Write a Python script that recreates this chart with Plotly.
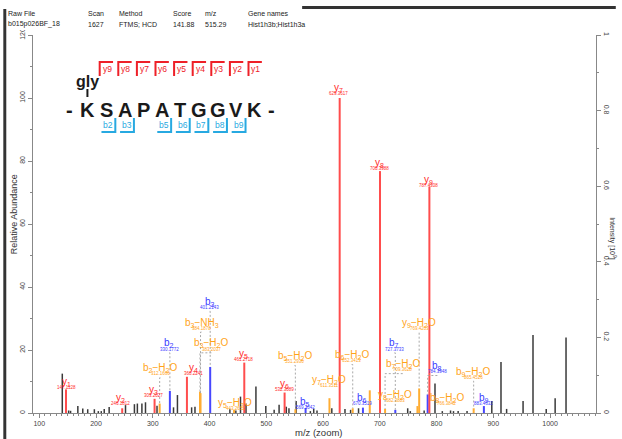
import plotly.graph_objects as go

# header table
header_cols = ['Raw File', 'Scan', 'Method', 'Score', 'm/z', 'Gene names']
header_vals = ['b015p026BF_18', '1627', 'FTMS; HCD', '141.88', '515.29', 'Hist1h3b;Hist1h3a']

# peptide + fragment coverage
peptide = 'KSAPATGGVK'
mod_label = 'gly'
y_cover = [9, 8, 7, 6, 5, 4, 3, 2, 1]
b_cover = [2, 3, 5, 6, 7, 8, 9]

# unassigned peaks (m/z, relative abundance)
other_mz = [140.6, 151.8, 155.2, 168.0, 176.7, 185.4, 197.1, 204.1, 209.3, 214.5, 223.2, 252.0,
            267.7, 272.9, 280.9, 287.2, 307.5, 336.6, 343.5, 368.5, 374.4, 435.9, 446.4, 454.6,
            464.3, 481.8, 499.2, 513.9, 522.6, 535.3, 540.0, 552.6, 577.7, 583.6, 589.4, 615.5,
            638.7, 648.6, 662.6, 749.2, 753.8, 778.2, 797.3, 810.2, 824.7, 829.9, 838.1, 853.8,
            897.4, 913.6, 923.5, 952.5, 970.0, 993.3, 1009.0, 1028.2]
other_int = [12.5, 0.8, 0.7, 2.2, 1.4, 1.2, 1.2, 0.6, 0.6, 1.3, 1.9, 2.5,
             2.8, 3.0, 3.0, 3.4, 2.3, 1.8, 5.7, 1.8, 2.0, 1.2, 0.8, 5.2,
             3.0, 8.4, 2.2, 1.0, 2.6, 2.0, 1.5, 3.8, 0.6, 1.3, 0.8, 1.5,
             1.3, 1.0, 1.5, 1.5, 0.6, 0.8, 9.4, 0.6, 0.8, 0.6, 0.6, 0.6,
             3.8, 16.2, 1.3, 3.8, 24.8, 1.3, 4.7, 24.0]

# assigned peaks
y_names = ['y1', 'y2', 'y3', 'y4', 'y5', 'y6', 'y7', 'y8', 'y9']
y_mz = [147.1128, 246.1812, 303.2027, 360.2241, 461.2718, 532.3089, 629.3617, 700.3988, 787.4308]
y_int = [7.5, 1.5, 4.5, 11.5, 16.0, 6.5, 100.0, 76.8, 71.9]

b_names = ['b2', 'b3', 'b5', 'b6', 'b7', 'b8', 'b9']
b_mz = [330.1772, 401.2143, 569.3042, 670.3519, 727.3733, 784.3948, 883.4632]
b_int = [7.0, 14.6, 1.6, 1.7, 1.0, 5.9, 2.2]

loss_names = ['b2-H2O', 'b3-H2O', 'b3-NH3', 'y5-H2O', 'b5-H2O', 'y7-H2O', 'b6-H2O',
              'y8-H2O', 'b7-H2O', 'b8-H2O', 'y9-H2O', 'b9-H2O']
loss_mz = [312.1666, 383.2037, 384.1878, 443.2612, 551.2936, 611.3511, 652.3413,
           682.3883, 709.3628, 766.3842, 769.4203, 865.4526]
loss_int = [3.0, 6.8, 6.3, 1.0, 1.2, 4.7, 1.5, 7.2, 1.3, 2.2, 7.8, 1.5]

# right axis (intensity, x10^9)
intensity_ticks = [0, 0.2, 0.4, 0.6, 0.8, 1]

# where each peak label sits (m/z, rel. abundance)
label_pos = {
    'y1': (148.3, 9.8), 'y2': (243.6, 4.7), 'y3': (301.7, 7.3), 'b2-H2O': (313.4, 14.2),
    'b2': (329.1, 22.1), 'y4': (371.4, 14.2), 'b3-NH3': (385.9, 28.7), 'b3-H2O': (403.3, 22.1),
    'b3': (400.5, 35.3), 'y5-H2O': (445.2, 3.1), 'y5': (459.8, 18.7), 'y6': (531.3, 9.2),
    'b5-H2O': (549.8, 18.1), 'b5': (569.0, 3.6), 'y7-H2O': (610.8, 10.5), 'y7': (627.2, 103.2),
    'b6-H2O': (650.4, 18.4), 'b6': (669.0, 4.7), 'y8': (698.7, 79.3), 'y8-H2O': (727.1, 5.7),
    'b7': (725.8, 22.1), 'b7-H2O': (740.5, 15.5), 'y9-H2O': (769.4, 28.5), 'y9': (785.8, 74.0),
    'b8': (801.5, 14.9), 'b8-H2O': (817.7, 4.7), 'b9-H2O': (864.3, 13.1), 'b9': (882.8, 4.7),
}
dashed = ['b2-H2O', 'b2', 'b3-NH3', 'b3-H2O', 'b3', 'b5-H2O', 'b6-H2O', 'b7', 'b7-H2O',
          'y9-H2O', 'b8', 'b9-H2O']

RED, BLUE, ORANGE, DARK = '#ff4d4d', '#4747ff', '#ffad33', '#3a3a3a'
FONT = 'Liberation Sans, Arial, sans-serif'

# plot area in pixels
L, R, T, B = 33, 602, 35, 413


def px(x):
    return (x - L) / (R - L)


def py(y):
    return (B - y) / (B - T)


def sticks(mz, inten):
    xs, ys = [], []
    for m, h in zip(mz, inten):
        xs += [m, m, None]
        ys += [0, h, None]
    return xs, ys


def fmt(name):
    ion, _, loss = name.partition('-')
    s = f"{ion[0]}<sub>{ion[1:]}</sub>"
    if loss:
        s += '−' + loss.replace('H2O', 'H<sub>2</sub>O').replace('NH3', 'NH<sub>3</sub>')
    return s


fig = go.Figure()


def note(x, y, text, size, color, ref='paper', xanchor='center', angle=0):
    fig.add_annotation(x=x, y=y, xref='x' if ref == 'data' else 'paper',
                       yref='y' if ref == 'data' else 'paper', text=text, showarrow=False,
                       xanchor=xanchor, yanchor='middle', textangle=angle,
                       font=dict(size=size, color=color, family=FONT))


for mz, inten, col, w in [(other_mz, other_int, DARK, 1.5), (loss_mz, loss_int, ORANGE, 2),
                          (b_mz, b_int, BLUE, 2), (y_mz, y_int, RED, 2)]:
    xs, ys = sticks(mz, inten)
    fig.add_trace(go.Scatter(x=xs, y=ys, mode='lines', line=dict(color=col, width=w),
                             hoverinfo='skip', showlegend=False))

# peak labels + dashed leaders
peaks = {}
for names, mz, inten, tcol in [(y_names, y_mz, y_int, '#ff2a2a'),
                               (b_names, b_mz, b_int, '#3a3aff'),
                               (loss_names, loss_mz, loss_int, '#ffa31a')]:
    for n, m, h in zip(names, mz, inten):
        peaks[n] = (m, h)
        lx, ly = label_pos[n]
        note(lx, ly, fmt(n), 10, tcol, ref='data')
        note(lx, ly - 1.8, f"{m:.4f}", 4.5, tcol, ref='data')

for n in dashed:
    m, h = peaks[n]
    lx, ly = label_pos[n]
    top = ly - 3.0
    fig.add_trace(go.Scatter(x=[lx, m, m], y=[top, top, h], mode='lines',
                             line=dict(color='#a8a8a8', width=1, dash='2px,2px'),
                             hoverinfo='skip', showlegend=False))

# dummy trace for the right axis
fig.add_trace(go.Scatter(x=[None], y=[None], yaxis='y2', showlegend=False))

axis_font = dict(size=7, color='#444', family=FONT)
fig.update_layout(
    width=622, height=439,
    margin=dict(l=L, r=622 - R, t=T, b=439 - B),
    plot_bgcolor='white', paper_bgcolor='white',
    font=dict(family=FONT),
    xaxis=dict(range=[89, 1081], tickvals=list(range(100, 1001, 100)), ticks='outside',
               ticklen=4, tickcolor='#888', showline=True, linecolor='#888', linewidth=1,
               showgrid=False, zeroline=False, tickfont=axis_font,
               minor=dict(dtick=10, tick0=0, ticks='outside', ticklen=2, tickcolor='#888')),
    yaxis=dict(range=[0, 120], tickvals=list(range(0, 121, 20)), ticks='outside', ticklen=4,
               tickcolor='#888', showline=True, linecolor='#888', linewidth=1, showgrid=False,
               zeroline=False, tickangle=-90, tickfont=axis_font,
               minor=dict(dtick=10, ticks='outside', ticklen=2, tickcolor='#888')),
    yaxis2=dict(range=[0, 1], tickvals=intensity_ticks, ticktext=[f'{v:g}' for v in intensity_ticks],
                overlaying='y', side='right', anchor='x',
                ticks='outside', ticklen=4, tickcolor='#888', showline=True, linecolor='#888',
                linewidth=1, showgrid=False, zeroline=False, tickangle=90, tickfont=axis_font,
                minor=dict(dtick=0.1, ticks='outside', ticklen=2, tickcolor='#888')),
)

# axis titles
note(px(322), py(432), 'm/z (zoom)', 9.5, '#333')
note(px(14), py(214), 'Relative Abundance', 9, '#333', angle=-90)
note(px(618), py(238), 'Intensity [10<sup>9</sup>]', 7, '#333', angle=90)

# header table
col_x = [6, 87, 118, 172, 205, 248]
for cx, h, v in zip(col_x, header_cols, header_vals):
    note(px(cx), py(13), h, 7, '#222', xanchor='left')
    note(px(cx), py(24), v, 7, '#222', xanchor='left')

shapes = [
    dict(type='rect', xref='paper', yref='paper', x0=px(8), x1=px(622), y0=py(0), y1=py(30),
         fillcolor='white', line_width=0, layer='above'),
    dict(type='rect', xref='paper', yref='paper', x0=px(3), x1=px(6), y0=py(9), y1=py(439),
         fillcolor='#333', line_width=0, layer='above'),
    dict(type='rect', xref='paper', yref='paper', x0=px(305), x1=px(622), y0=py(6), y1=py(9),
         fillcolor='#333', line_width=0, layer='above'),
]

# peptide sequence diagram
step = 18.8
cx0 = 88
centers = [cx0 + i * step for i in range(len(peptide))]
for c, aa in zip(centers, peptide):
    note(px(c), py(110), f'<b>{aa}</b>', 20, '#1a1a1a')
for c in [centers[0] - 18, centers[-1] + 17]:
    note(px(c), py(110), '<b>-</b>', 20, '#1a1a1a')
note(px(centers[0]), py(82), f'<b>{mod_label}</b>', 16, '#1a1a1a')
shapes.append(dict(type='line', xref='paper', yref='paper', x0=px(centers[0]), x1=px(centers[0]),
                   y0=py(89), y1=py(97), line=dict(color='#1a1a1a', width=2)))

n = len(peptide)
for k in y_cover:
    brk = (centers[n - k - 1] + centers[n - k]) / 2 + 3
    shapes.append(dict(type='path', xref='paper', yref='paper',
                       path=f'M {px(brk)} {py(76)} L {px(brk)} {py(62)} L {px(brk + 13.5)} {py(62)}',
                       line=dict(color='#ee2028', width=2)))
    note(px(brk + 7.5), py(69), f'y{k}', 8.5, '#ee2028')
for k in b_cover:
    brk = (centers[k - 1] + centers[k]) / 2
    shapes.append(dict(type='path', xref='paper', yref='paper',
                       path=f'M {px(brk)} {py(118)} L {px(brk)} {py(132)} L {px(brk - 14)} {py(132)}',
                       line=dict(color='#27a9e1', width=2)))
    note(px(brk - 7), py(125), f'b{k}', 8.5, '#27a9e1')

fig.update_layout(shapes=shapes)

# drop the browser's default 8px body margin so the figure fills the window
fig.write_html("out.html", config={'displayModeBar': False},
               post_script="document.body.style.margin='0';")
